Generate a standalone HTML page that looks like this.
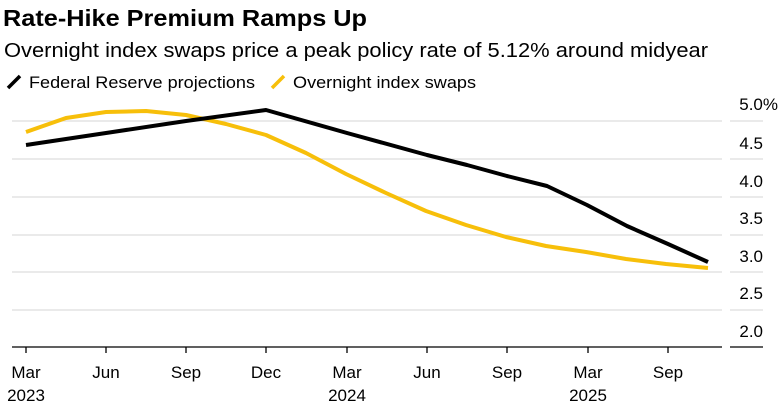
<!DOCTYPE html><html><head><style>
body{margin:0;background:#fff;font-family:"Liberation Sans",sans-serif;}
</style></head><body>
<svg width="780" height="413" xmlns="http://www.w3.org/2000/svg" font-family="Liberation Sans, sans-serif">
<text x="3" y="26" font-size="23" font-weight="bold" fill="#000" textLength="364" lengthAdjust="spacingAndGlyphs">Rate-Hike Premium Ramps Up</text>
<text x="4" y="57" font-size="20" fill="#000" textLength="704" lengthAdjust="spacingAndGlyphs">Overnight index swaps price a peak policy rate of 5.12% around midyear</text>
<line x1="8" y1="88" x2="20" y2="76" stroke="#000" stroke-width="3.5"/>
<text x="29" y="88" font-size="17" textLength="226" lengthAdjust="spacingAndGlyphs">Federal Reserve projections</text>
<line x1="272" y1="88" x2="284" y2="76" stroke="#f7bf0a" stroke-width="3.5"/>
<text x="293" y="88" font-size="17" textLength="183" lengthAdjust="spacingAndGlyphs">Overnight index swaps</text>
<g stroke="#ddd" stroke-width="1.2">
<line x1="12" y1="121" x2="722" y2="121"/><line x1="730" y1="121" x2="763" y2="121"/>
<line x1="12" y1="159" x2="722" y2="159"/><line x1="730" y1="159" x2="763" y2="159"/>
<line x1="12" y1="197" x2="722" y2="197"/><line x1="730" y1="197" x2="763" y2="197"/>
<line x1="12" y1="235" x2="722" y2="235"/><line x1="730" y1="235" x2="763" y2="235"/>
<line x1="12" y1="272" x2="722" y2="272"/><line x1="730" y1="272" x2="763" y2="272"/>
<line x1="12" y1="310" x2="722" y2="310"/><line x1="730" y1="310" x2="763" y2="310"/>
</g>
<g stroke="#000" stroke-width="1.3">
<line x1="12" y1="347" x2="722" y2="347"/><line x1="730" y1="347" x2="763" y2="347"/>
<line x1="26" y1="347" x2="26" y2="353"/><line x1="106" y1="347" x2="106" y2="353"/>
<line x1="186" y1="347" x2="186" y2="353"/><line x1="266" y1="347" x2="266" y2="353"/>
<line x1="347" y1="347" x2="347" y2="353"/><line x1="427" y1="347" x2="427" y2="353"/>
<line x1="507" y1="347" x2="507" y2="353"/><line x1="588" y1="347" x2="588" y2="353"/>
<line x1="668" y1="347" x2="668" y2="353"/>
</g>
<g font-size="17" text-anchor="middle">
<text x="26" y="378">Mar</text><text x="26" y="401">2023</text>
<text x="106" y="378">Jun</text><text x="186" y="378">Sep</text><text x="266" y="378">Dec</text>
<text x="347" y="378">Mar</text><text x="347" y="401">2024</text>
<text x="427" y="378">Jun</text><text x="507" y="378">Sep</text>
<text x="588" y="378">Mar</text><text x="588" y="401">2025</text>
<text x="668" y="378">Sep</text>
</g>
<g font-size="17" text-anchor="end">
<text x="778" y="110">5.0%</text><text x="763" y="149">4.5</text><text x="763" y="187">4.0</text>
<text x="763" y="224">3.5</text><text x="763" y="262">3.0</text><text x="763" y="299">2.5</text><text x="763" y="337">2.0</text>
</g>
<polyline fill="none" stroke="#f7bf0a" stroke-width="4" stroke-linejoin="round" points="26,132 66,118 106,112 146,111 186,115 226,124 266,135 306,153 346,174 386,193 426,211 466,225 506,237 546,246 586,252 626,259 666,264 708,268"/>
<polyline fill="none" stroke="#000" stroke-width="4" stroke-linejoin="round" points="26,145 106,133 186,121 266,110 347,133 427,155 467,165 507,176 547,186 587,205 627,226 668,244 708,262"/>
</svg>
</body></html>
